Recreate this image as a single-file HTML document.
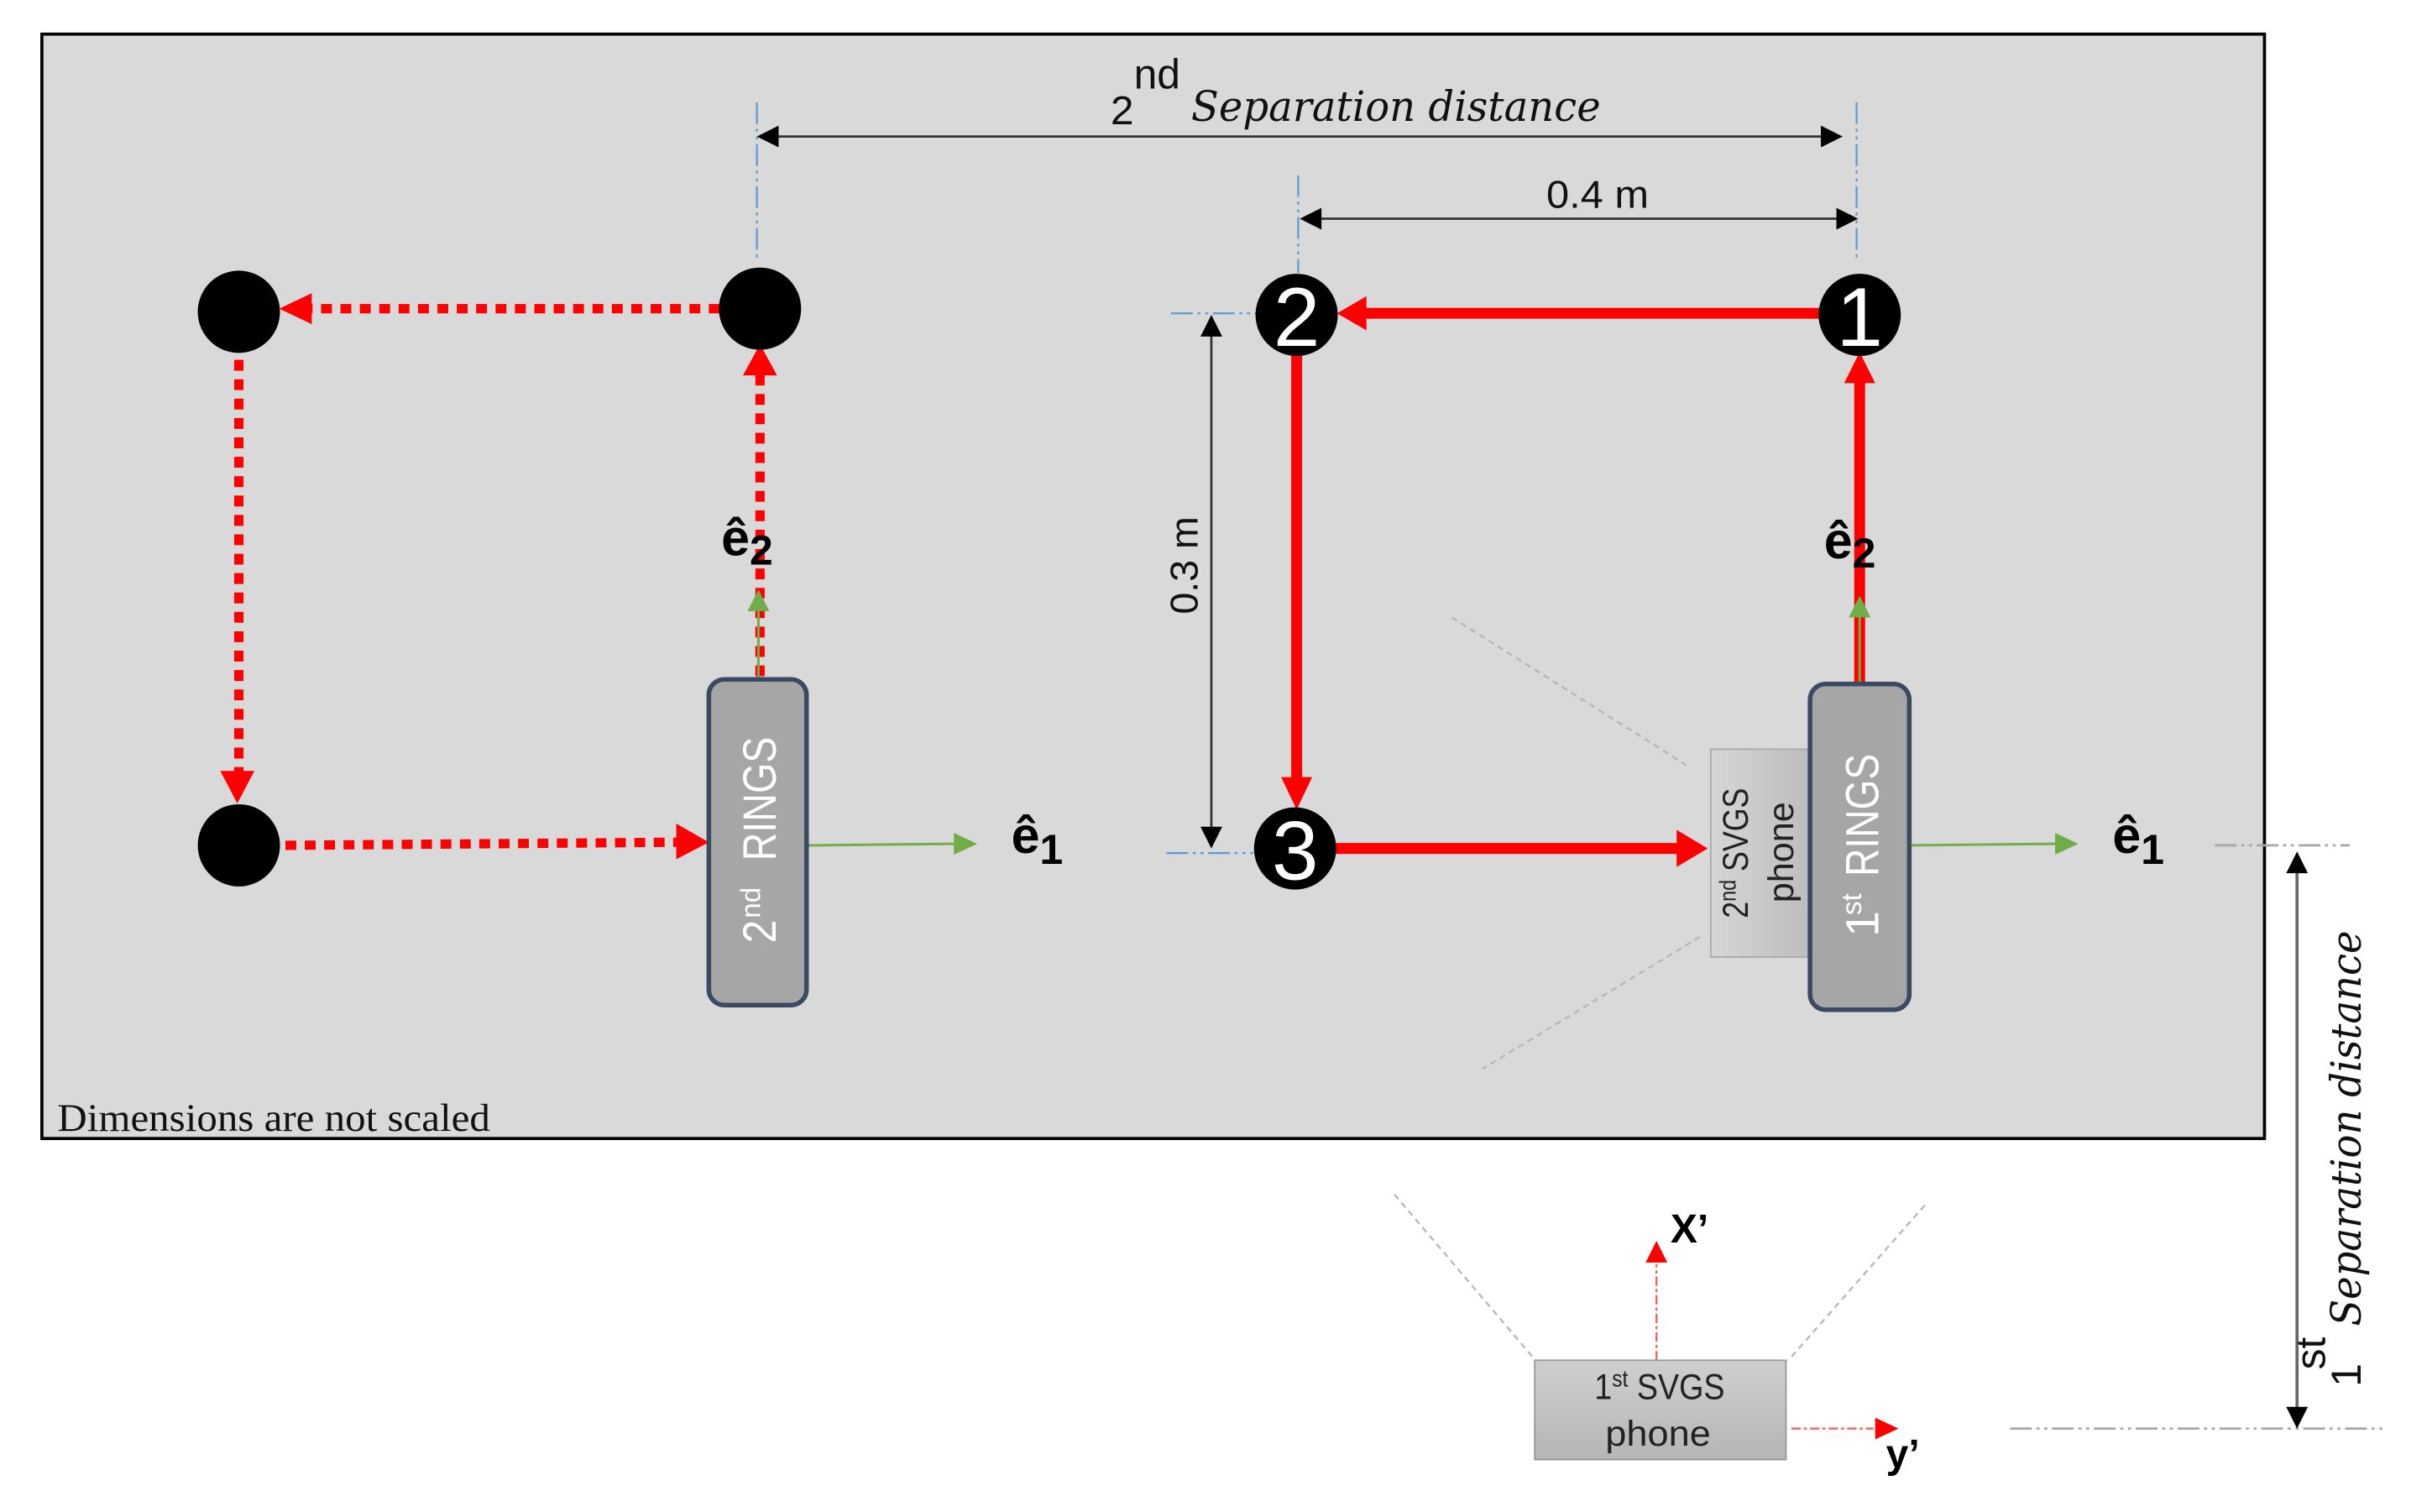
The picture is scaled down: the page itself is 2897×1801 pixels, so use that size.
<!DOCTYPE html>
<html><head><meta charset="utf-8"><style>html,body{margin:0;padding:0;background:#fff}svg{display:block}text{font-family:"Liberation Sans",sans-serif}</style></head><body>
<svg xmlns="http://www.w3.org/2000/svg" width="2897" height="1801" viewBox="0 0 1568 974.8">
<defs>
<linearGradient id="g1" x1="0" y1="0" x2="1" y2="0"><stop offset="0" stop-color="#d6d6d6"/><stop offset="1" stop-color="#bdbdbd"/></linearGradient>
<linearGradient id="g2" x1="0" y1="0" x2="0" y2="1"><stop offset="0" stop-color="#cfcfcf"/><stop offset="1" stop-color="#b5b5b5"/></linearGradient>
</defs>
<rect width="1568" height="975" fill="#fff"/>
<rect x="27" y="22" width="1433" height="712" fill="#d9d9d9" stroke="#000" stroke-width="2"/>

<!-- blue extension lines -->
<g stroke="#5b9bd5" stroke-width="1.2" stroke-dasharray="14 3 2 3 2 3" fill="none">
<path d="M488 66V166M1197 66V168M837 113V176M755 202H812M752 550H808"/>
</g>
<!-- grey extension -->
<g stroke="#a8a8a8" stroke-width="1.5" stroke-dasharray="14 3 2 3 2 3" fill="none">
<path d="M1428 545H1515M1296 921H1538"/>
</g>
<!-- grey view lines -->
<g stroke="#b5b5b5" stroke-width="1.2" stroke-dasharray="4 3" fill="none">
<path d="M936 398L1090 495M1096 604L956 689M899 770L990 877M1241 777L1153 877"/>
</g>

<!-- dimension lines -->
<g stroke="#333" stroke-width="1.5" fill="none">
<path d="M500 88H1176M850 141H1186M781 215V536"/>
<path d="M1481 560V908" stroke="#666" stroke-width="2"/>
</g>
<g fill="#000">
<path d="M488 88l14-7v14zM1188 88l-14-7v14zM838 141l14-7v14zM1198 141l-14-7v14zM781 203l-7 14h14zM781 547l-7-14h14zM1481 549l-7 14h14zM1481 921l-7-14h14z"/>
</g>

<!-- dashed red -->
<g stroke="#f00" stroke-width="6" stroke-dasharray="7 5.5" fill="none">
<path d="M464 199H200M154 232V500M184 545L436 543M490 436V240"/>
</g>
<g fill="#f00">
<path d="M180 199l21-10v20zM153 518l-11-21h22zM457 543l-21-12v23zM490 222l-11 20h22z"/>
</g>
<!-- solid red -->
<g stroke="#f00" stroke-width="7" fill="none">
<path d="M1175 202H878M836 228V506M858 547H1083M1199 442V243"/>
</g>
<g fill="#f00">
<path d="M862 202l19-11v22zM836 522l-10-21h20zM1101 547l-20-12v24zM1199 227l-10 20h20z"/>
</g>
<!-- green -->
<g stroke="#70ad47" stroke-width="1.6" fill="none">
<path d="M489 438V392M521 545L616 544M1199 440V396M1232 545L1326 544"/>
</g>
<g fill="#70ad47">
<path d="M489 380l-7 14h14zM630 544l-15-7v14zM1199 384l-7 14h14zM1340 544l-15-7v14z"/>
</g>
<!-- phone axes -->
<g stroke="#f55" stroke-width="1.2" stroke-dasharray="6 2 2 2" fill="none">
<path d="M1068 877V815M1155 921H1208"/>
</g>
<g fill="#f00"><path d="M1068 800l-7 14h14zM1224 921l-15-7v14z"/></g>

<!-- circles -->
<g fill="#000">
<circle cx="154" cy="201" r="26.5"/><circle cx="490" cy="199" r="26.5"/><circle cx="154" cy="545" r="26.5"/>
<circle cx="836" cy="203" r="26.5"/><circle cx="1199" cy="203" r="26.5"/><circle cx="835" cy="547" r="26.5"/>
</g>
<g fill="#fff" font-size="54" text-anchor="middle">
<text x="836" y="223">2</text><text x="1199" y="223">1</text><text x="835" y="567">3</text>
</g>

<!-- phones -->
<rect x="1103" y="483" width="64" height="134" fill="url(#g1)" stroke="#aaa" stroke-width="1"/>
<rect x="989.500" y="877" width="162" height="64" fill="url(#g2)" stroke="#999" stroke-width="1"/>
<!-- rings -->
<rect x="457" y="438" width="63" height="210" rx="10" fill="#a6a6a6" stroke="#3b4a63" stroke-width="3"/>
<rect x="1167" y="441" width="64" height="210" rx="10" fill="#a6a6a6" stroke="#3b4a63" stroke-width="3"/>

<text transform="translate(500,555) rotate(-90)" fill="#fff" font-size="30" textLength="80" lengthAdjust="spacingAndGlyphs">RINGS</text>
<text transform="translate(500,608) rotate(-90)" fill="#fff" font-size="30" textLength="15" lengthAdjust="spacingAndGlyphs">2</text>
<text transform="translate(490,592) rotate(-90)" fill="#fff" font-size="18" textLength="20" lengthAdjust="spacingAndGlyphs">nd</text>
<text transform="translate(1211,565) rotate(-90)" fill="#fff" font-size="30" textLength="79" lengthAdjust="spacingAndGlyphs">RINGS</text>
<text transform="translate(1211,604) rotate(-90)" fill="#fff" font-size="30">1</text>
<text transform="translate(1200,590) rotate(-90)" fill="#fff" font-size="18">st</text>
<text transform="translate(1127,592) rotate(-90)" fill="#222" font-size="23" textLength="84" lengthAdjust="spacingAndGlyphs">2<tspan font-size="15" dy="-8">nd</tspan><tspan dy="8"> SVGS</tspan></text>
<text transform="translate(1156,582) rotate(-90)" fill="#222" font-size="23" textLength="65" lengthAdjust="spacingAndGlyphs">phone</text>
<text x="1028" y="902" fill="#222" font-size="23" textLength="84" lengthAdjust="spacingAndGlyphs">1<tspan font-size="15" dy="-8">st</tspan><tspan dy="8"> SVGS</tspan></text>
<text x="1035" y="932" fill="#222" font-size="23" textLength="68" lengthAdjust="spacingAndGlyphs">phone</text>

<!-- labels -->
<text x="997" y="134" font-size="25" fill="#111" textLength="66" lengthAdjust="spacingAndGlyphs">0.4 m</text>
<text transform="translate(772,396) rotate(-90)" font-size="25" fill="#111" textLength="63" lengthAdjust="spacingAndGlyphs">0.3 m</text>
<text x="716" y="80" font-size="26" fill="#111" textLength="15" lengthAdjust="spacingAndGlyphs">2</text>
<text x="731" y="57" font-size="27" fill="#111" textLength="30" lengthAdjust="spacingAndGlyphs">nd</text>
<text x="768" y="78" font-size="27" font-style="italic" style="font-family:'DejaVu Serif',serif" fill="#111" textLength="264" lengthAdjust="spacingAndGlyphs">Separation distance</text>
<text transform="translate(1522,855) rotate(-90)" font-size="27" font-style="italic" style="font-family:'DejaVu Serif',serif" fill="#111" textLength="255" lengthAdjust="spacingAndGlyphs">Separation distance</text>
<text transform="translate(1522,894) rotate(-90)" font-size="27" fill="#111">1</text>
<text transform="translate(1499,883) rotate(-90)" font-size="27" fill="#111">st</text>
<text x="37" y="729" font-size="25" style="font-family:'Liberation Serif',serif" fill="#111" textLength="279" lengthAdjust="spacingAndGlyphs">Dimensions are not scaled</text>

<g font-weight="bold" fill="#000" font-size="33">
<text x="465" y="358">ê<tspan font-size="27" dy="6">2</tspan></text>
<text x="1176" y="360">ê<tspan font-size="27" dy="6">2</tspan></text>
<text x="652" y="550">ê<tspan font-size="27" dy="7">1</tspan></text>
<text x="1362" y="550">ê<tspan font-size="27" dy="7">1</tspan></text>
<text x="1077" y="801" font-size="26">X’</text>
<text x="1216" y="946" font-size="26">y’</text>
</g>
</svg>
</body></html>
